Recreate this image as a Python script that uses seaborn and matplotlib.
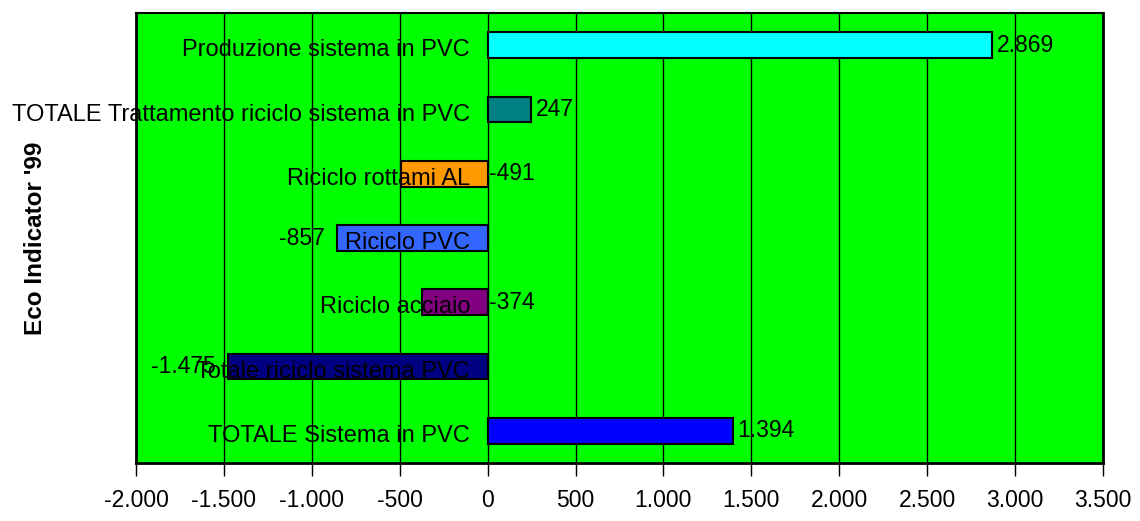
import matplotlib
matplotlib.use("Agg")
import matplotlib.pyplot as plt
from matplotlib import font_manager
from matplotlib.ticker import FuncFormatter
import seaborn as sns
import pandas as pd

categories = [
    "Produzione sistema in PVC",
    "TOTALE Trattamento riciclo sistema in PVC",
    "Riciclo rottami AL",
    "Riciclo PVC",
    "Riciclo acciaio",
    "Totale riciclo sistema PVC",
    "TOTALE Sistema in PVC",
]
values = [2869, 247, -491, -857, -374, -1475, 1394]
bar_colors = ["#00FFFF", "#008080", "#FF9900", "#3366FF", "#800080", "#000080", "#0000FF"]
# side of the value label: "end" = beyond the bar tip, "base" = right of zero
label_side = ["end", "end", "base", "end", "base", "end", "end"]
x_ticks = [-2000, -1500, -1000, -500, 0, 500, 1000, 1500, 2000, 2500, 3000, 3500]

names = {f.name for f in font_manager.fontManager.ttflist}
narrow = "Liberation Sans Narrow" if "Liberation Sans Narrow" in names else "Liberation Sans"

sns.set_theme(style="white")
plt.rcParams["font.family"] = [narrow, "DejaVu Sans"]
plt.rcParams["text.color"] = "black"
plt.rcParams["axes.labelcolor"] = "black"
plt.rcParams["xtick.color"] = "black"

df = pd.DataFrame({"cat": categories, "val": values})

fig = plt.figure(figsize=(11.4, 5.21), dpi=100)
ax = fig.add_axes([0.1193, 0.1113, 0.8482, 0.8637])
ax.set_facecolor("#00FF00")

sns.barplot(data=df, x="val", y="cat", hue="cat", palette=bar_colors,
            order=categories, hue_order=categories, legend=False,
            orient="h", width=0.4, edgecolor="black", linewidth=1.5,
            saturation=1, ax=ax, zorder=3)

ax.set_xlim(x_ticks[0], x_ticks[-1])
ax.set_ylim(len(categories) - 0.5, -0.5)
ax.set_xticks(x_ticks)
ax.xaxis.set_major_formatter(FuncFormatter(lambda v, p: f"{int(v):,}".replace(",", ".")))
ax.grid(axis="x", color="black", linewidth=1, zorder=1)
ax.set_axisbelow(True)
ax.tick_params(axis="x", direction="out", length=9, width=1, color="black",
               labelcolor="black", labelsize=16.5, pad=10, bottom=True)
ax.tick_params(axis="y", left=False, labelleft=False)
ax.set_xlabel("")
ax.set_ylabel("Eco Indicator '99", fontsize=17.5, fontweight="bold", color="black",
              family=["Liberation Sans", "DejaVu Sans"], labelpad=64)

for s in ax.spines.values():
    s.set_color("black")
    s.set_linewidth(2)
    s.set_visible(True)
ax.spines["top"].set_linewidth(1.5)

fmt = lambda v: f"{v:,}".replace(",", ".")
for i, (cat, v, side) in enumerate(zip(categories, values, label_side)):
    ax.text(-100, i + 0.08, cat, ha="right", va="center", fontsize=17,
            color="black", zorder=4)
    if side == "base":
        ax.text(10, i, fmt(v), ha="left", va="center", fontsize=16.5,
                color="black", zorder=4)
    elif v >= 0:
        ax.text(v + 25, i, fmt(v), ha="left", va="center", fontsize=16.5,
                color="black", zorder=4)
    else:
        ax.text(v - 70, i, fmt(v), ha="right", va="center", fontsize=16.5,
                color="black", zorder=4)

fig.savefig("out.png", dpi=100, facecolor="white")
